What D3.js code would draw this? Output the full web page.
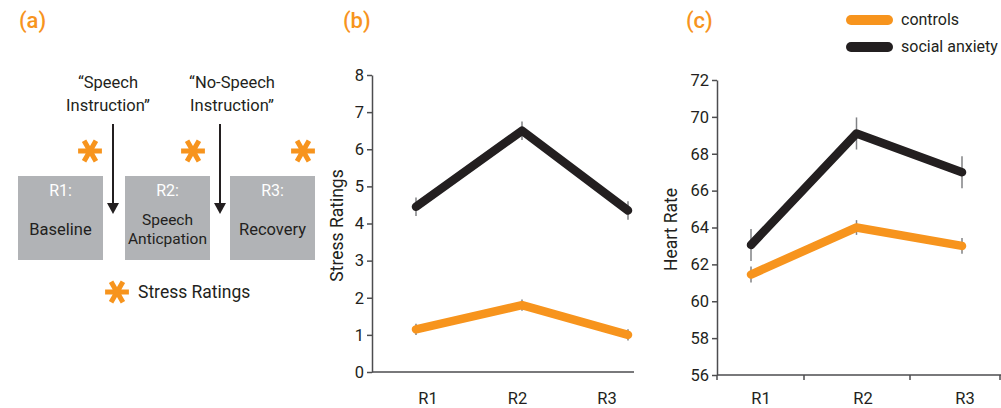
<!DOCTYPE html>
<html>
<head>
<meta charset="utf-8">
<script src="https://cdn.jsdelivr.net/npm/d3@7"></script>
<style>
  body { margin: 0; background: #fff; }
  svg { font-family: Roboto, "DejaVu Sans", sans-serif; }
</style>
</head>
<body>
<script>
// Data
const phases = ["R1", "R2", "R3"];
const stressControls = [1.15, 1.8, 1.0];
const stressControlsErr = [0.15, 0.15, 0.15];
const stressAnxiety = [4.45, 6.5, 4.35];
const stressAnxietyErr = [0.25, 0.25, 0.25];
const hrControls = [61.45, 64.0, 63.0];
const hrControlsErr = [0.43, 0.4, 0.43];
const hrAnxiety = [63.05, 69.1, 67.0];
const hrAnxietyErr = [0.87, 0.87, 0.87];
const stressTicks = [0, 1, 2, 3, 4, 5, 6, 7, 8];
const hrTicks = [56, 58, 60, 62, 64, 66, 68, 70, 72];
const seriesNames = ["controls", "social anxiety"];

const width = 1001;
const height = 408;
const orange = "#f7941d";
const dark = "#231f20";
const boxGray = "#b1b3b6";

const svg = d3.select("body")
  .append("svg")
  .attr("width", width)
  .attr("height", height);

// Panel labels
const panelLabel = (x, t) => svg.append("text")
  .attr("x", x).attr("y", 28)
  .attr("fill", orange)
  .attr("font-size", 22)
  .attr("font-weight", 500)
  .text(t);
panelLabel(19, "(a)");
panelLabel(343, "(b)");
panelLabel(686, "(c)");

// ---------- Panel (a): study design ----------
const a = svg.append("g");
const boxes = [
  { x: 18, head: "R1:", body: ["Baseline"] },
  { x: 125, head: "R2:", body: ["Speech", "Anticpation"] },
  { x: 230, head: "R3:", body: ["Recovery"] }
];
boxes.forEach(b => {
  a.append("rect")
    .attr("x", b.x).attr("y", 176)
    .attr("width", 85).attr("height", 84)
    .attr("fill", boxGray);
  a.append("text")
    .attr("x", b.x + 42.5).attr("y", 196)
    .attr("text-anchor", "middle")
    .attr("fill", "#fff")
    .attr("font-size", 16)
    .text(b.head);
  const y0 = b.body.length === 1 ? 235 : 225;
  b.body.forEach((line, i) => {
    a.append("text")
      .attr("x", b.x + 42.5).attr("y", y0 + i * 19)
      .attr("text-anchor", "middle")
      .attr("fill", dark)
      .attr("font-size", b.body.length === 1 ? 16.5 : 15.5)
      .text(line);
  });
});

// Instruction texts + arrows
const instructions = [
  { x: 108, lines: ["\u201cSpeech", "Instruction\u201d"], ax: 113 },
  { x: 232, lines: ["\u201cNo-Speech", "Instruction\u201d"], ax: 220 }
];
instructions.forEach(d => {
  d.lines.forEach((line, i) => {
    a.append("text")
      .attr("x", d.x).attr("y", 88 + i * 23)
      .attr("text-anchor", "middle")
      .attr("fill", dark)
      .attr("font-size", 16.5)
      .text(line);
  });
  a.append("line")
    .attr("x1", d.ax).attr("x2", d.ax)
    .attr("y1", 124).attr("y2", 204)
    .attr("stroke", dark).attr("stroke-width", 2);
  a.append("path")
    .attr("d", `M${d.ax - 6},203 L${d.ax + 6},203 L${d.ax},214 Z`)
    .attr("fill", dark);
});

// Asterisks
const asterisk = d3.symbol().type(d3.symbolAsterisk).size(400);
[[90, 151], [193, 151], [303, 151], [117, 292]].forEach(([x, y]) => {
  a.append("path")
    .attr("d", asterisk())
    .attr("transform", `translate(${x},${y}) rotate(90)`)
    .attr("fill", "none")
    .attr("stroke", orange)
    .attr("stroke-width", 5);
});
a.append("text")
  .attr("x", 138).attr("y", 298)
  .attr("fill", dark)
  .attr("font-size", 17.5)
  .text("Stress Ratings");

// ---------- Line panels ----------
function linePanel(opt) {
  const g = svg.append("g");
  const y = d3.scaleLinear().domain(opt.yDomain).range([opt.yBottom, opt.yTop]);
  const x = d3.scalePoint().domain(phases).range(opt.pointRange);
  const xLab = d3.scalePoint().domain(phases).range(opt.labelRange);

  // y axis
  const yAxis = d3.axisLeft(y).tickValues(opt.yTicks).tickSize(5).tickSizeOuter(0);
  const ya = g.append("g")
    .attr("transform", `translate(${opt.xLeft},0)`)
    .call(yAxis);
  ya.select(".domain").attr("stroke", "#4d4d4f").attr("stroke-width", 1.5);
  ya.selectAll(".tick line").attr("stroke", "#4d4d4f").attr("stroke-width", 1.5);
  ya.selectAll(".tick text")
    .attr("font-size", 16.5)
    .attr("fill", dark)
    .attr("font-family", "Roboto, sans-serif")
    .attr("x", -8);

  // x baseline
  g.append("line")
    .attr("x1", opt.xLeft).attr("x2", opt.xRight)
    .attr("y1", y(opt.yDomain[0])).attr("y2", y(opt.yDomain[0]))
    .attr("stroke", "#4d4d4f").attr("stroke-width", 1.5);
  (opt.xTicks || []).forEach(t => {
    g.append("line")
      .attr("x1", t).attr("x2", t)
      .attr("y1", y(opt.yDomain[0])).attr("y2", y(opt.yDomain[0]) + 5)
      .attr("stroke", "#4d4d4f").attr("stroke-width", 1.5);
  });
  g.selectAll(".xlab")
    .data(phases)
    .enter()
    .append("text")
    .attr("x", d => xLab(d))
    .attr("y", 404)
    .attr("text-anchor", "middle")
    .attr("font-size", 16.5)
    .attr("fill", dark)
    .text(d => d);

  // y title
  g.append("text")
    .attr("transform", `translate(${opt.titleX},${(opt.yTop + opt.yBottom) / 2 + 2}) rotate(-90)`)
    .attr("text-anchor", "middle")
    .attr("font-size", 17.5)
    .attr("fill", dark)
    .text(opt.title);

  const line = d3.line()
    .x((d, i) => x(phases[i]))
    .y(d => y(d));

  opt.series.forEach(s => {
    // error bars
    g.selectAll(null)
      .data(s.values)
      .enter()
      .append("line")
      .attr("x1", (d, i) => x(phases[i]))
      .attr("x2", (d, i) => x(phases[i]))
      .attr("y1", (d, i) => y(d - s.err[i]))
      .attr("y2", (d, i) => y(d + s.err[i]))
      .attr("stroke", "#808285")
      .attr("stroke-width", 1.5);
    g.append("path")
      .datum(s.values)
      .attr("d", line)
      .attr("fill", "none")
      .attr("stroke", s.color)
      .attr("stroke-width", 8.5)
      .attr("stroke-linecap", "round")
      .attr("stroke-linejoin", "round");
  });
}

linePanel({
  yDomain: [0, 8], yTicks: stressTicks,
  yTop: 75, yBottom: 372,
  xLeft: 372, xRight: 634,
  pointRange: [416, 628], labelRange: [428, 607],
  titleX: 343, title: "Stress Ratings",
  series: [
    { values: stressControls, err: stressControlsErr, color: orange },
    { values: stressAnxiety, err: stressAnxietyErr, color: dark }
  ]
});

linePanel({
  yDomain: [56, 72], yTicks: hrTicks,
  yTop: 80, yBottom: 375,
  xLeft: 717, xRight: 1001,
  xTicks: [717, 804, 910, 1000],
  pointRange: [751, 962], labelRange: [761, 965],
  titleX: 677, title: "Heart Rate",
  series: [
    { values: hrControls, err: hrControlsErr, color: orange },
    { values: hrAnxiety, err: hrAnxietyErr, color: dark }
  ]
});

// Legend
const legendColors = [orange, dark];
seriesNames.forEach((name, i) => {
  const ly = 20 + i * 27;
  svg.append("line")
    .attr("x1", 851).attr("x2", 888)
    .attr("y1", ly).attr("y2", ly)
    .attr("stroke", legendColors[i])
    .attr("stroke-width", 10)
    .attr("stroke-linecap", "round");
  svg.append("text")
    .attr("x", 901).attr("y", ly + 5)
    .attr("font-size", 16)
    .attr("fill", dark)
    .text(name);
});
</script>
</body>
</html>
